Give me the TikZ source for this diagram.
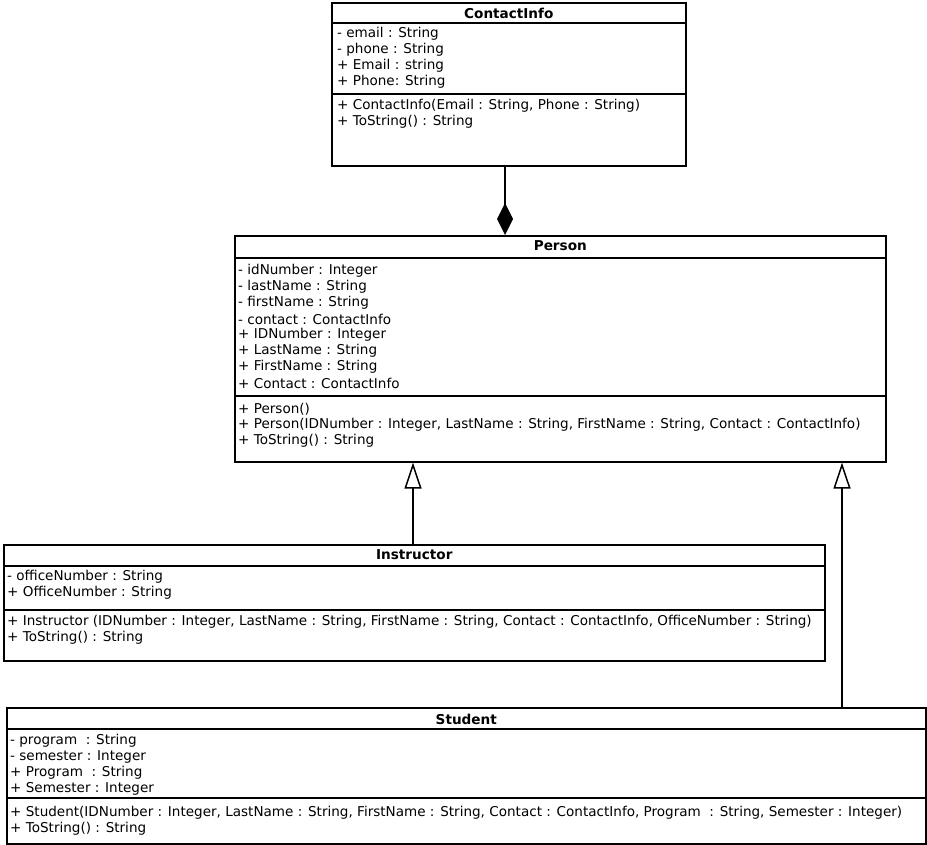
\documentclass[tikz,border=0pt]{standalone}
\usepackage{fontspec}
\setmainfont{DejaVu Sans}
\usetikzlibrary{arrows.meta}

\begin{document}
\begin{tikzpicture}[x=1pt, y=-1pt,
                classbox/.style={draw, line width=1.6pt, anchor=north west, inner sep=0pt},
                title/.style={font=\fontsize{13.6}{15}\selectfont\bfseries, inner sep=0pt},
                member/.style={font=\fontsize{13.55}{15}\selectfont, anchor=west, inner sep=0pt},
                divider/.style={line width=1.6pt},
                composition/.style={line width=1.5pt, -{Diamond[fill=black, length=32pt, width=16pt]}},
                inherit/.style={line width=1.5pt, -{Triangle[open, length=26pt, width=17pt, line width=1.5pt]}}]
                \def\lineSkip{16}
                % one compartment of members, one text per line
                \newcommand\members[4]{% name, x, first y, lines
                    \foreach \txt [count=\i from 0] in {#4}{
                        \node[member] (#1-\i) at (#2, #3+\lineSkip*\i) {\txt};
                    }
                }

                \useasboundingbox (0,0) rectangle (927,845);

                % ContactInfo
                \node[classbox, minimum width=354pt, minimum height=163pt] (contact) at (331,2) {};
                \node[title] (contact-name) at (contact.north |- 0,13) {ContactInfo};
                \draw[divider] (contact.west |- 0,23) -- (contact.east |- 0,23);
                \draw[divider] (contact.west |- 0,94) -- (contact.east |- 0,94);
                \members{contact-attr}{337}{34}{- email : String, - phone : String, + Email : string, + Phone: String}
                \members{contact-op}{337}{106}{{+ ContactInfo(Email : String, Phone : String)}, + ToString() : String}

                % Person
                \node[classbox, minimum width=651pt, minimum height=226pt] (person) at (234,235) {};
                \node[title] (person-name) at (person.north |- 0,246) {Person};
                \draw[divider] (person.west |- 0,258) -- (person.east |- 0,258);
                \draw[divider] (person.west |- 0,396) -- (person.east |- 0,396);
                \members{person-attr}{238}{271}{- idNumber : Integer, - lastName : String, - firstName : String,
                    - contact : ContactInfo, + IDNumber : Integer, + LastName : String,
                    + FirstName : String, + Contact : ContactInfo}
                \members{person-op}{238}{409}{+ Person(),
                    {+ Person(IDNumber : Integer, LastName : String, FirstName : String, Contact : ContactInfo)},
                    + ToString() : String}

                % Instructor
                \node[classbox, minimum width=821pt, minimum height=116pt] (instructor) at (3,544) {};
                \node[title] (instructor-name) at (instructor.north |- 0,555) {Instructor};
                \draw[divider] (instructor.west |- 0,566) -- (instructor.east |- 0,566);
                \draw[divider] (instructor.west |- 0,610) -- (instructor.east |- 0,610);
                \members{instructor-attr}{7}{577}{- officeNumber : String, + OfficeNumber : String}
                \members{instructor-op}{7}{622}{{+ Instructor (IDNumber : Integer, LastName : String, FirstName : String, Contact : ContactInfo, OfficeNumber : String)},
                    + ToString() : String}

                % Student
                \node[classbox, minimum width=919pt, minimum height=136pt] (student) at (6,707) {};
                \node[title] (student-name) at (student.north |- 0,719) {Student};
                \draw[divider] (student.west |- 0,729) -- (student.east |- 0,729);
                \draw[divider] (student.west |- 0,798) -- (student.east |- 0,798);
                \members{student-attr}{10}{741}{- program\ \ : String, - semester : Integer, + Program\ \ : String, + Semester : Integer}
                \members{student-op}{10}{813}{{+ Student(IDNumber : Integer, LastName : String, FirstName : String, Contact : ContactInfo, Program\ \ : String, Semester : Integer)},
                    + ToString() : String}

                % relations
                \coordinate (partJoin) at (505,0);
                \coordinate (instructorJoin) at (413,0);
                \coordinate (studentJoin) at (842,0);
                \draw[composition] (contact.south -| partJoin) -- (person.north -| partJoin);
                \draw[inherit] (instructor.north -| instructorJoin) -- (person.south -| instructorJoin);
                \draw[inherit] (student.north -| studentJoin) -- (person.south -| studentJoin);
\end{tikzpicture}
\end{document}
